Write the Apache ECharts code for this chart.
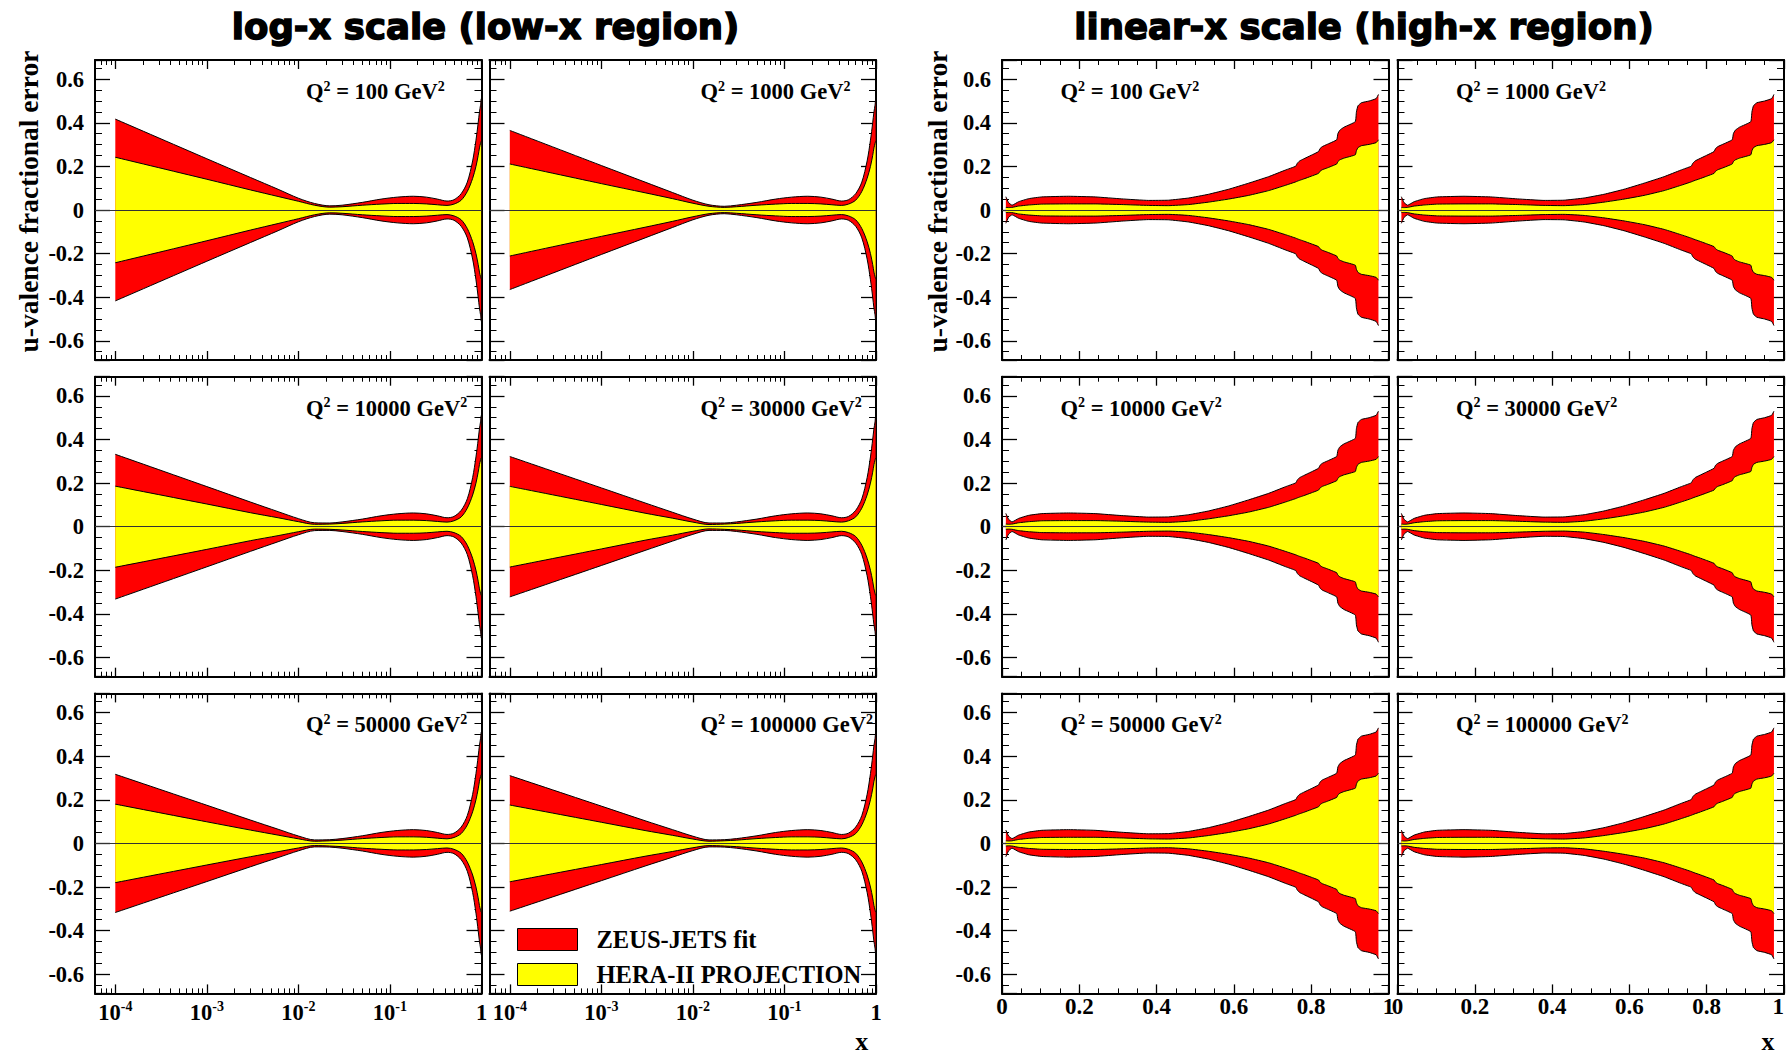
<!DOCTYPE html>
<html><head><meta charset="utf-8">
<script src="https://cdn.jsdelivr.net/npm/echarts@6/dist/echarts.min.js"></script>
<style>html,body{margin:0;padding:0;background:#fff}#c{width:1787px;height:1056px}</style>
</head><body><div id="c"></div>
<script>
// ---------------- DATA ----------------
const Q2_LABELS = ['100', '1000', '10000', '30000', '50000', '100000'];

// log-x panels: low-x part (per Q2), half-widths of the bands
const LOG_X_LOW = [1e-4, 1e-3, 3e-3, 6e-3, 0.01, 0.015, 0.022];
const RED_LOW = [
  [0.417, 0.235, 0.149, 0.095, 0.054, 0.030, 0.019],
  [0.365, 0.204, 0.128, 0.080, 0.045, 0.024, 0.017],
  [0.332, 0.184, 0.113, 0.069, 0.037, 0.018, 0.017],
  [0.322, 0.178, 0.109, 0.066, 0.035, 0.017, 0.017],
  [0.317, 0.175, 0.107, 0.065, 0.034, 0.016, 0.017],
  [0.311, 0.171, 0.104, 0.063, 0.033, 0.016, 0.017]
];
const YEL_LOW = [
  [0.242, 0.141, 0.092, 0.062, 0.040, 0.022, 0.013],
  [0.211, 0.121, 0.079, 0.052, 0.031, 0.017, 0.012],
  [0.186, 0.104, 0.064, 0.041, 0.023, 0.011, 0.012],
  [0.185, 0.102, 0.062, 0.039, 0.021, 0.010, 0.012],
  [0.180, 0.099, 0.061, 0.038, 0.021, 0.010, 0.012],
  [0.176, 0.097, 0.059, 0.037, 0.020, 0.010, 0.012]
];
// log-x panels: mid/high-x part (same in all panels)
const LOG_X_TAIL = [0.03, 0.05, 0.08, 0.12, 0.18, 0.25, 0.33, 0.42, 0.5, 0.6, 0.7, 0.8, 0.87, 0.92, 0.95, 0.975, 0.99];
const RED_TAIL   = [0.022, 0.035, 0.050, 0.059, 0.063, 0.059, 0.050, 0.041, 0.047, 0.075, 0.128, 0.225, 0.32, 0.40, 0.45, 0.48, 0.51];
const YEL_TAIL   = [0.015, 0.022, 0.027, 0.030, 0.030, 0.028, 0.024, 0.021, 0.027, 0.045, 0.085, 0.145, 0.20, 0.25, 0.285, 0.305, 0.315];

// linear-x panels (same in all panels)
const LIN_X   = [0.010, 0.017, 0.026, 0.043, 0.069, 0.103, 0.172, 0.241, 0.31, 0.379, 0.431, 0.483, 0.534, 0.586, 0.638, 0.69, 0.733,
                 0.760, 0.764, 0.770, 0.780, 0.800, 0.819, 0.823, 0.829, 0.840, 0.866, 0.869, 0.874, 0.885, 0.914, 0.917, 0.921, 0.930, 0.950, 0.968, 0.974];
const LIN_RED = [0.061, 0.034, 0.022, 0.038, 0.052, 0.060, 0.063, 0.060, 0.051, 0.044, 0.045, 0.055, 0.072, 0.095, 0.123, 0.153, 0.183,
                 0.201, 0.214, 0.225, 0.234, 0.251, 0.268, 0.282, 0.291, 0.300, 0.322, 0.350, 0.366, 0.380, 0.405, 0.450, 0.478, 0.492, 0.500, 0.511, 0.530];
const LIN_YEL = [0.012, 0.011, 0.012, 0.018, 0.023, 0.027, 0.028, 0.028, 0.025, 0.021, 0.020, 0.025, 0.036, 0.050, 0.067, 0.089, 0.113,
                 0.129, 0.132, 0.136, 0.142, 0.155, 0.168, 0.178, 0.185, 0.192, 0.211, 0.222, 0.230, 0.238, 0.253, 0.272, 0.286, 0.295, 0.301, 0.309, 0.322];

// axes ticks / labels
const LOG_MIN = 6e-5;
const LOG_MAJOR = [1e-4, 1e-3, 1e-2, 1e-1, 1];
const Y_LABELS = [-0.6, -0.4, -0.2, 0, 0.2, 0.4, 0.6];
const Y_RANGE = 0.688;
const LEGEND_NAMES = ['ZEUS-JETS fit', 'HERA-II PROJECTION'];

// ---------------- LAYOUT ----------------
const COL_LEFT = [95, 489.5, 1002, 1397.5];
const ROW_TOP = [60, 376.7, 693.4];
const GW = 386.5, GH = 300;
const SERIF = '"Liberation Serif", "Times New Roman", serif';
const RED = '#ff0000', YEL = '#ffff00';

const LOG_MINOR = [];
for (let k = -5; k <= -1; k++) for (let m = 2; m <= 9; m++) {
  const v = +(m * Math.pow(10, k)).toPrecision(3);
  if (v > LOG_MIN && v < 1) LOG_MINOR.push(v);
}

const grids = [], xAxis = [], yAxis = [], series = [], graphic = [];
const frameLine = {show: true, onZero: false, lineStyle: {color: '#000', width: 2}};

function addPanel(col, row, isLog, q) {
  const g = grids.length;
  grids.push({left: COL_LEFT[col], top: ROW_TOP[row], width: GW, height: GH, show: false, containLabel: false, outerBoundsMode: 'none'});
  const showX = row === 2;
  const showY = col === 0 || col === 2;
  const xBase = isLog
    ? {type: 'log', logBase: 10, min: LOG_MIN, max: 1}
    : {type: 'value', min: 0, max: 1, interval: 0.2};
  const xLabel = isLog ? {
      show: showX, customValues: LOG_MAJOR, margin: 6,
      formatter: v => { const e = Math.round(Math.log10(v)); return e === 0 ? '{b|1}' : '{b|10}{s|' + e + '}'; },
      rich: {
        b: {fontSize: 22.5, fontFamily: SERIF, fontWeight: 'bold', color: '#000', lineHeight: 26},
        s: {fontSize: 14, fontFamily: SERIF, fontWeight: 'bold', color: '#000', lineHeight: 14, verticalAlign: 'top'}
      }
    } : {
      show: showX, margin: 2, fontSize: 23, fontFamily: SERIF, fontWeight: 'bold', color: '#000',
      alignMaxLabel: col === 3 ? 'right' : null,
      formatter: v => v === 0 ? '0' : (v === 1 ? '1' : v.toFixed(1))
    };
  const tickMain = {show: true, inside: true, length: 9, lineStyle: {color: '#000', width: 1.3}};
  if (isLog) tickMain.customValues = LOG_MAJOR;
  const minorLin = {show: !isLog, splitNumber: 4, length: 5, lineStyle: {color: '#000', width: 1}};
  const xMainIdx = xAxis.length;
  ['bottom', 'top'].forEach((pos, i) => {
    xAxis.push(Object.assign({}, xBase, {
      gridIndex: g, position: pos, axisLine: frameLine, axisTick: tickMain, minorTick: minorLin,
      splitLine: {show: false}, minorSplitLine: {show: false},
      axisLabel: i === 0 ? xLabel : {show: false}
    }));
  });
  if (isLog) {
    ['bottom', 'top'].forEach(pos => {
      xAxis.push(Object.assign({}, xBase, {
        gridIndex: g, position: pos, axisLine: {show: false, onZero: false},
        axisTick: {show: true, inside: true, length: 5, customValues: LOG_MINOR, lineStyle: {color: '#000', width: 1}},
        splitLine: {show: false}, axisLabel: {show: false}
      }));
    });
  }
  const yMainIdx = yAxis.length;
  ['left', 'right'].forEach((pos, i) => {
    yAxis.push({
      type: 'value', gridIndex: g, position: pos, min: -Y_RANGE, max: Y_RANGE, splitNumber: 7,
      axisLine: frameLine,
      axisTick: {show: true, inside: true, length: 15, lineStyle: {color: '#000', width: 1.3}},
      minorTick: {show: true, splitNumber: 4, length: 7, lineStyle: {color: '#000', width: 1}},
      splitLine: {show: false}, minorSplitLine: {show: false},
      axisLabel: (i === 0 && showY) ? {
        show: true, customValues: Y_LABELS, margin: 11, fontSize: 22.5, fontFamily: SERIF, fontWeight: 'bold', color: '#000',
        formatter: v => v === 0 ? '0' : v.toFixed(1)
      } : {show: false}
    });
  });

  let xs, red, yel;
  if (isLog) {
    xs = LOG_X_LOW.concat(LOG_X_TAIL);
    red = RED_LOW[q].concat(RED_TAIL);
    yel = YEL_LOW[q].concat(YEL_TAIL);
  } else {
    xs = LIN_X; red = LIN_RED; yel = LIN_YEL;
  }
  const smooth = isLog ? 0.3 : 0.12;
  const mk = (name, color, vals, sign, extra) => Object.assign({
    type: 'line', name, xAxisIndex: xMainIdx, yAxisIndex: yMainIdx,
    data: xs.map((x, i) => [x, sign * vals[i]]),
    showSymbol: false, symbol: 'none', smooth,
    lineStyle: {color: '#000', width: 1},
    itemStyle: {color},
    areaStyle: {color, opacity: 1, origin: 'auto'},
    emphasis: {disabled: true}, silent: true, animation: false
  }, extra || {});
  series.push(mk(LEGEND_NAMES[0], RED, red, 1));
  series.push(mk(LEGEND_NAMES[0], RED, red, -1));
  series.push(mk(LEGEND_NAMES[1], YEL, yel, 1));
  series.push(mk(LEGEND_NAMES[1], YEL, yel, -1, {
    markLine: {silent: true, symbol: 'none', animation: false, label: {show: false},
      lineStyle: {color: '#333', width: 1.2, type: 'solid'}, data: [{yAxis: 0}]}
  }));

  // Q2 label
  graphic.push({
    type: 'text', silent: true,
    x: COL_LEFT[col] + (isLog ? 211 : 58.5), y: ROW_TOP[row] + 31.5,
    style: {
      text: '{q|Q}{s|2}{q| = ' + Q2_LABELS[q] + ' GeV}{s|2}',
      align: 'left', verticalAlign: 'middle',
      rich: {
        q: {fontSize: 22.5, fontFamily: SERIF, fontWeight: 'bold', fill: '#000', lineHeight: 25},
        s: {fontSize: 14, fontFamily: SERIF, fontWeight: 'bold', fill: '#000', lineHeight: 14, verticalAlign: 'top'}
      }
    }
  });
}

for (let q = 0; q < 6; q++) {
  addPanel(q % 2, Math.floor(q / 2), true, q);
  addPanel(2 + q % 2, Math.floor(q / 2), false, q);
}

// titles and axis names
const titleStyle = {fontSize: 35.5, fontWeight: 'bold', fontFamily: '"DejaVu Sans", sans-serif', fill: '#000', stroke: '#000', lineWidth: 1.5, align: 'center', verticalAlign: 'middle'};
graphic.push({type: 'text', silent: true, x: 485.5, y: 26, style: Object.assign({text: 'log-x scale (low-x region)'}, titleStyle)});
graphic.push({type: 'text', silent: true, x: 1364, y: 26, style: Object.assign({text: 'linear-x scale (high-x region)'}, titleStyle)});
[28.7, 937].forEach(x => graphic.push({
  type: 'text', silent: true, x, y: 201.5, rotation: Math.PI / 2,
  style: {text: 'u-valence fractional error', fontSize: 27.5, fontWeight: 'bold', fontFamily: SERIF, fill: '#000', align: 'center', verticalAlign: 'middle'}
}));
[[861.7, 1054], [1768, 1054]].forEach(p => graphic.push({
  type: 'text', silent: true, x: p[0], y: p[1],
  style: {text: 'x', fontSize: 26, fontWeight: 'bold', fontFamily: SERIF, fill: '#000', align: 'center', verticalAlign: 'bottom'}
}));

const chart = echarts.init(document.getElementById('c'), null, {renderer: 'svg', width: 1787, height: 1056});
chart.setOption({
  animation: false,
  backgroundColor: '#fff',
  grid: grids, xAxis, yAxis, series, graphic,
  legend: {
    show: true, selectedMode: false, orient: 'vertical', left: 517, top: 927, padding: 0,
    itemWidth: 60, itemHeight: 22, itemGap: 10, icon: 'rect',
    textStyle: {fontSize: 24.5, fontFamily: SERIF, fontWeight: 'bold', color: '#000', padding: [0, 0, 0, 14]},
    data: [
      {name: LEGEND_NAMES[0], icon: 'rect', itemStyle: {color: RED, borderColor: '#000', borderWidth: 1}},
      {name: LEGEND_NAMES[1], icon: 'rect', itemStyle: {color: YEL, borderColor: '#000', borderWidth: 1}}
    ]
  }
});
</script>
</body></html>
